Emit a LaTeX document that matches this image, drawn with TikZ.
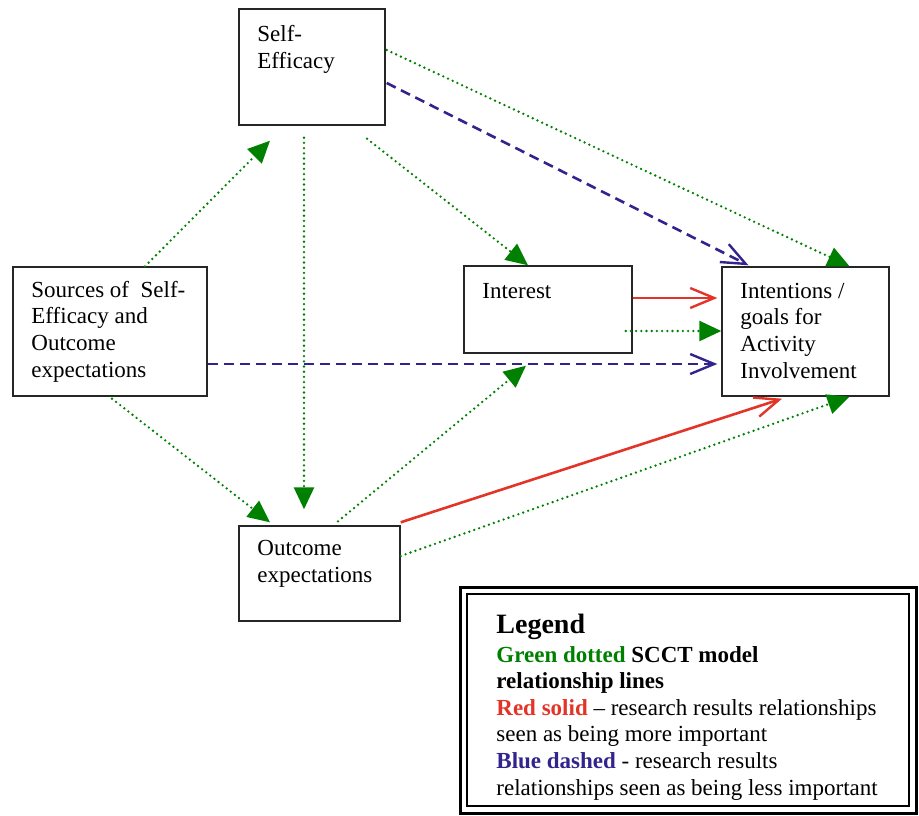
\documentclass[tikz,border=0pt]{standalone}
\usepackage{fontspec}
\setmainfont{Liberation Serif}
\usepackage{xcolor}
\usepackage{tikz}
\usetikzlibrary{arrows.meta}

\definecolor{scctgreen}{RGB}{0,128,0}
\definecolor{resred}{RGB}{226,52,40}
\definecolor{resblue}{RGB}{50,36,140}

\begin{document}
\begin{tikzpicture}[x=0.5pt, y=-0.5pt,
    box/.style={draw=black!85, line width=0.7pt, inner sep=0pt},
    txt/.style={align=left, inner sep=0pt, font=\fontsize{11.5}{13.3}\selectfont},
    scct/.style={scctgreen, line width=1.3pt, line cap=round, dash pattern=on 0pt off 2.6pt,
      -{Triangle[length=11pt,width=10pt]}},
    strong/.style={resred, line width=1.3pt, -{Straight Barb[length=12pt,width=10pt,line width=1.2pt]}},
    weak/.style={resblue, line width=1.3pt, dash pattern=on 5pt off 3pt,
      -{Straight Barb[length=12pt,width=10pt,line width=1.2pt]}}]

  \useasboundingbox (0,0) rectangle (919,815);

  % boxes
  \node[box, minimum width=73pt, minimum height=58pt] (se) at (312,67) {};
  \node[box, minimum width=97pt, minimum height=64.5pt] (src) at (110,331.5) {};
  \node[box, minimum width=84pt, minimum height=43.5pt] (int) at (548,309.5) {};
  \node[box, minimum width=83.5pt, minimum height=64.5pt] (goal) at (805.5,331.5) {};
  \node[box, minimum width=80.5pt, minimum height=47.5pt] (oe) at (319.5,573.5) {};

  % box texts (anchored at the baseline of the last line)
  \node[txt, anchor=base west] (setxt) at (257,68) {Self-\\Efficacy};
  \node[txt, anchor=base west] (srctxt) at (31,377) {Sources of~ Self-\\Efficacy and\\Outcome\\expectations};
  \node[txt, anchor=base west] (inttxt) at (482,298) {Interest};
  \node[txt, anchor=base west] (goaltxt) at (740,378) {Intentions /\\goals for\\Activity\\Involvement};
  \node[txt, anchor=base west] (oetxt) at (257,582.5) {Outcome\\expectations};

  % green dotted: SCCT model
  \draw[scct] ([shift={(35,0)}]src.north) -- ([shift={(-42,15)}]se.south);
  \draw[scct] ([shift={(-8,12)}]se.south) -- ([shift={(-15.5,-16)}]oe.north);
  \draw[scct] ([shift={(55,13)}]se.south) -- ([shift={(-20,0)}]int.north);
  \draw[scct] ([shift={(1,-17)}]se.east) -- ([shift={(44,0)}]goal.north);
  \draw[scct] ([shift={(2,2)}]src.south) -- ([shift={(-49.5,-3)}]oe.north);
  \draw[scct] ([shift={(18.5,-4)}]oe.north) -- ([shift={(-22,12)}]int.south);
  \draw[scct] ([shift={(-7,21.5)}]int.east) -- ([shift={(0,-0.5)}]goal.west);
  \draw[scct] ([shift={(0,-17.5)}]oe.east) -- ([shift={(44,0)}]goal.south);

  % blue dashed
  \draw[weak] ([shift={(1,16)}]se.east) -- ([shift={(-57,-1)}]goal.north);
  \draw[weak] ([shift={(0,32.5)}]src.east) -- ([shift={(-4,32.5)}]goal.west);

  % red solid
  \draw[strong] ([shift={(0,-11.5)}]int.east) -- ([shift={(-4,-33.5)}]goal.west);
  \draw[strong] ([shift={(0,-3)}]oe.north east) -- ([shift={(-23.5,2)}]goal.south);

  % legend
  \draw[line width=1.5pt] (460,587) rectangle (916,813);
  \draw[line width=1pt] (467,594) rectangle (909,806);
  \node[anchor=base west, inner sep=0pt, font=\fontsize{14}{16}\selectfont\bfseries] (legtitle) at (496,633) {Legend};
  \node[txt, anchor=base west] (legtxt) at (496,795) {%
    \textbf{\textcolor{scctgreen}{Green dotted} SCCT model}\\
    \textbf{relationship lines}\\
    \textbf{\textcolor{resred}{Red solid}} -- research results relationships\\
    seen as being more important\\
    \textbf{\textcolor{resblue}{Blue dashed}} - research results\\
    relationships seen as being less important};

\end{tikzpicture}
\end{document}
